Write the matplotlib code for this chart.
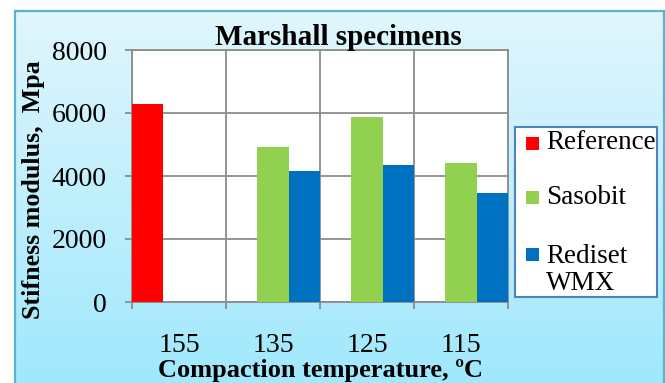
import matplotlib
matplotlib.use('Agg')
import matplotlib.pyplot as plt
import numpy as np
from matplotlib.patches import Rectangle

plt.rcParams['font.family'] = ['Liberation Serif', 'DejaVu Serif']

# ---- data ----
categories = ["155", "135", "125", "115"]
reference = [6300, 0, 0, 0]
sasobit = [0, 4930, 5870, 4420]
rediset = [0, 4170, 4350, 3460]
series_names = ["Reference", "Sasobit", "Rediset\nWMX"]
colors = ["#ff0000", "#92d050", "#0070c0"]
yticks = [0, 2000, 4000, 6000, 8000]
title = "Marshall specimens"
xlabel = "Compaction temperature, \u00baC"
ylabel = "Stifness modulus,  Mpa"

W, H = 665, 383
FONT = ['Liberation Serif', 'DejaVu Serif']
fig = plt.figure(figsize=(W / 100, H / 100), dpi=100)
fig.patch.set_facecolor('white')


def fx(px):
    return px / W


def fy(py):
    return 1 - py / H


# ---- background panel with gradient ----
bg = fig.add_axes([fx(15), 0, fx(664) - fx(15), fy(11)], zorder=0)
grad = np.linspace(0, 1, 256)[:, None, None]
top = np.array([224, 246, 253]) / 255
bot = np.array([160, 232, 252]) / 255
img = top + (bot - top) * grad
bg.imshow(img, aspect='auto', extent=[0, 1, 0, 1])
bg.set_axis_off()
fig.add_artist(Rectangle((fx(15), -0.02), fx(664) - fx(15), fy(11) + 0.02,
                         transform=fig.transFigure, fill=False,
                         edgecolor='#5ab4cc', lw=1.6, zorder=1))

# ---- main axes ----
ax = fig.add_axes([fx(132), fy(302), fx(508) - fx(132), fy(50) - fy(302)], zorder=2)
ax.set_facecolor('white')
x = np.arange(len(categories))
w = 1 / 3
series = [reference, sasobit, rediset]
for i, (vals, c) in enumerate(zip(series, colors)):
    ax.bar(x + (i - 1) * w, vals, width=w, color=c, linewidth=0, zorder=3)

ax.set_xlim(-0.5, len(categories) - 0.5)
ax.set_ylim(0, 8000)
ax.set_yticks(yticks)
ax.set_yticklabels([str(v) for v in yticks], fontfamily=FONT, fontsize=20)
ax.set_xticks(np.arange(-0.5, len(categories), 1))
ax.set_xticklabels([])
ax.set_xticks(x, minor=True)
ax.set_xticklabels(categories, minor=True, fontfamily=FONT, fontsize=20)
ax.grid(True, which='major', color='#8c8c8c', lw=1.3, zorder=1)
ax.set_axisbelow(True)
for s in ax.spines.values():
    s.set_color('#8c8c8c')
    s.set_linewidth(1.3)
ax.tick_params(axis='y', which='major', length=5, width=1.3, color='#8c8c8c', pad=13)
ax.tick_params(axis='x', which='major', length=5, width=1.3, color='#8c8c8c')
ax.tick_params(axis='x', which='minor', length=0, pad=22)

# ---- texts ----
fig.text(fx(338), fy(45), title, ha='center', va='baseline', fontsize=21,
         fontweight='bold', fontfamily=FONT, zorder=5)
fig.text(fx(320), fy(377), xlabel, ha='center', va='baseline', fontsize=19,
         fontweight='bold', fontfamily=FONT, zorder=5)
fig.text(fx(34), fy(190), ylabel, ha='center', va='center', rotation=90,
         fontsize=18.7, fontweight='bold', fontfamily=FONT, zorder=5)

# ---- legend (drawn manually so the marker aligns with first line) ----
fig.add_artist(Rectangle((fx(515), fy(297)), fx(657) - fx(515), fy(127) - fy(297),
                         transform=fig.transFigure, facecolor='white',
                         edgecolor='#4f81bd', lw=1.5, zorder=4))
marker_y = [143, 197, 254]
text_y = [142, 198, 270]
for name, c, my, ty in zip(series_names, colors, marker_y, text_y):
    fig.add_artist(Rectangle((fx(526), fy(my + 6.5)), fx(13), 13 / H,
                             transform=fig.transFigure, facecolor=c,
                             edgecolor='none', zorder=5))
    fig.text(fx(546), fy(ty), name, ha='left', va='center', fontsize=19.5,
             linespacing=1.1, fontfamily=FONT, zorder=6)

fig.savefig('out.png', dpi=100)
